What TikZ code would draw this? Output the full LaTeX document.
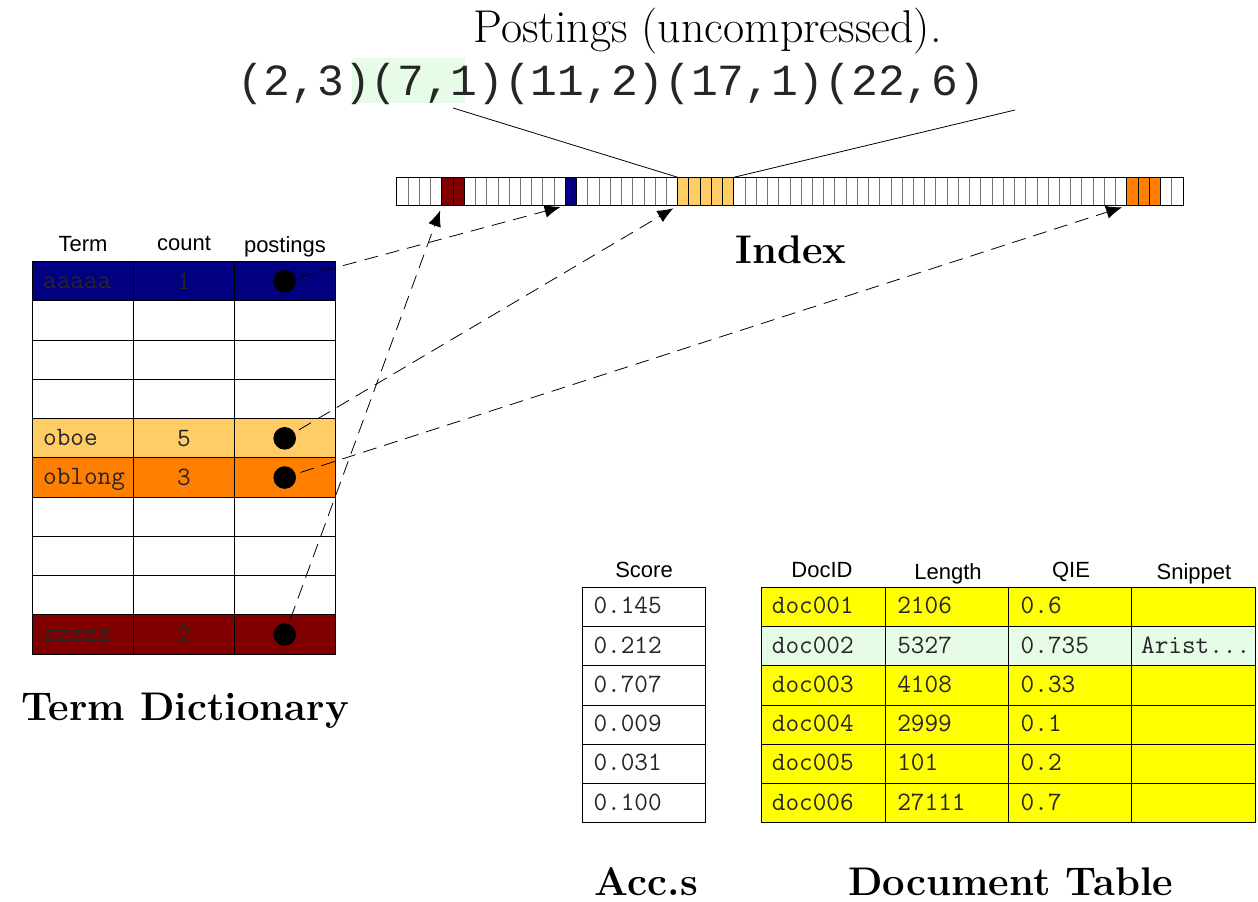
\documentclass[tikz,border=0pt]{standalone}
\usepackage{fontspec}
\setsansfont{Liberation Sans}
\newfontfamily\tuplefont{Liberation Mono}
\usepackage{tikz}
\usetikzlibrary{arrows.meta}

\definecolor{termblue}{RGB}{0,0,128}
\definecolor{termred}{RGB}{128,0,0}
\definecolor{paleorange}{RGB}{255,204,102}
\definecolor{brightorange}{RGB}{255,128,0}
\definecolor{docyellow}{RGB}{255,255,0}
\definecolor{palegreen}{RGB}{230,252,230}

\begin{document}
\begin{tikzpicture}[x=1pt,y=-1pt,
    slot/.style={draw=black!55,line width=1pt,minimum width=11.23pt,minimum height=28.4pt,inner sep=0pt,outer sep=0pt},
    tcell/.style={draw=black,line width=1pt,minimum width=100.7pt,minimum height=39.25pt,inner sep=0pt,outer sep=0pt},
    dcell/.style={draw=black,line width=1pt,minimum width=123.4pt,minimum height=39.25pt,inner sep=0pt,outer sep=0pt},
    head/.style={font=\sffamily\fontsize{22}{26}\selectfont,anchor=base,inner sep=0pt},
    mono/.style={font=\ttfamily\fontsize{26.5}{30}\selectfont,text=black!85,anchor=base west,inner sep=0pt},
    title/.style={font=\bfseries\fontsize{40}{48}\selectfont,anchor=base,inner sep=0pt},
    dot/.style={circle,fill=black,minimum size=22.6pt,inner sep=0pt},
    ptr/.style={-{Latex[length=16pt,width=13pt]},line width=0.8pt,dash pattern=on 14pt off 8pt,shorten <=5pt,shorten >=5pt}]
    \useasboundingbox (0,0) rectangle (1258,902);

    % Postings text
    \node[font=\fontsize{46}{54}\selectfont,anchor=base,inner sep=0pt] (ptitle) at (707.5,42) {Postings (uncompressed).};
    \fill[palegreen] (352,58) rectangle (465,103);
    \node[font=\tuplefont\fontsize{44.5}{50}\selectfont,text=black!85,anchor=base west,inner sep=0pt] (tuple) at (237,95) {(2,3)(7,1)(11,2)(17,1)(22,6)};

    % The index, one slot per posting list
    \foreach \i in {0,...,69}
        \node[slot] (c\i) at ({402.6+11.229*\i},191.5) {};
    \foreach \i/\c in {4/termred,5/termred,15/termblue,25/paleorange,26/paleorange,27/paleorange,28/paleorange,29/paleorange,65/brightorange,66/brightorange,67/brightorange}
        \node[slot,draw=black,fill=\c] at (c\i) {};
    \draw[line width=1pt] (c0.north west) rectangle (c69.south east);
    \node[title] (index) at (791,263) {Index};

    % Zoom lines from the postings to the index
    \coordinate (tl) at (453,108);
    \coordinate (tr) at (1015,110);
    \draw[line width=0.8pt] (tl) -- (c25.north west);
    \draw[line width=0.8pt] (tr) -- (c29.north east);

    % Term dictionary
    \node[head] at (83,251) {Term};
    \node[head] at (184,250) {count};
    \node[head] at (285,252) {postings};
    \foreach \r/\rc in {0/termblue,1/white,2/white,3/white,4/paleorange,5/brightorange,6/white,7/white,8/white,9/termred}
        \foreach \k in {0,1,2}
            \node[tcell,fill=\rc] (t\r-\k) at ({83.3+100.7*\k},{281.3+39.25*\r}) {};
    \foreach \r/\w/\n in {0/aaaaa/1,4/oboe/5,5/oblong/3,9/zzzzz/2} {
        \node[mono] at ([shift={(10,7)}]t\r-0.west) {\w};
        \node[mono,anchor=base] at ([shift={(0,8)}]t\r-1) {\n};
    }
    \node[dot] (post-aaaaa) at (t0-2) {};
    \node[dot] (post-oboe) at (t4-2) {};
    \node[dot] (post-oblong) at (t5-2) {};
    \node[dot] (post-zzzzz) at (t9-2) {};
    \node[title] at (185,720) {Term Dictionary};

    % Pointers into the index
    \draw[ptr] (post-aaaaa) -- (c15.south west);
    \draw[ptr] (post-oboe) -- (c25.south west);
    \draw[ptr] (post-oblong) -- (c65.south west);
    \draw[ptr] (post-zzzzz) -- (c4.south west);

    % Accumulators
    \node[head] at (644,577) {Score};
    \foreach \r/\v in {0/0.145,1/0.212,2/0.707,3/0.009,4/0.031,5/0.100} {
        \node[dcell] (s\r) at (644,{606.9+39.25*\r}) {};
        \node[mono] at ([shift={(11,7)}]s\r.west) {\v};
    }
    \node[title] at (646.5,895) {Acc.s};

    % Document table
    \node[head] at (822,577) {DocID};
    \node[head] at (948,579) {Length};
    \node[head] at (1071,577) {QIE};
    \node[head] at (1194,579) {Snippet};
    \foreach \r/\rc in {0/docyellow,1/palegreen,2/docyellow,3/docyellow,4/docyellow,5/docyellow}
        \foreach \k in {0,1,2,3}
            \node[dcell,fill=\rc] (d\r-\k) at ({823.4+123.4*\k},{606.9+39.25*\r}) {};
    \foreach \r/\id/\len/\qie in {0/doc001/2106/0.6,1/doc002/5327/0.735,2/doc003/4108/0.33,3/doc004/2999/0.1,4/doc005/101/0.2,5/doc006/27111/0.7} {
        \node[mono] at ([shift={(10,7)}]d\r-0.west) {\id};
        \node[mono] at ([shift={(12,7)}]d\r-1.west) {\len};
        \node[mono] at ([shift={(12,7)}]d\r-2.west) {\qie};
    }
    \node[mono] at ([shift={(9,7)}]d1-3.west) {Arist...};
    \node[title] at (1010.5,895) {Document Table};
\end{tikzpicture}
\end{document}
